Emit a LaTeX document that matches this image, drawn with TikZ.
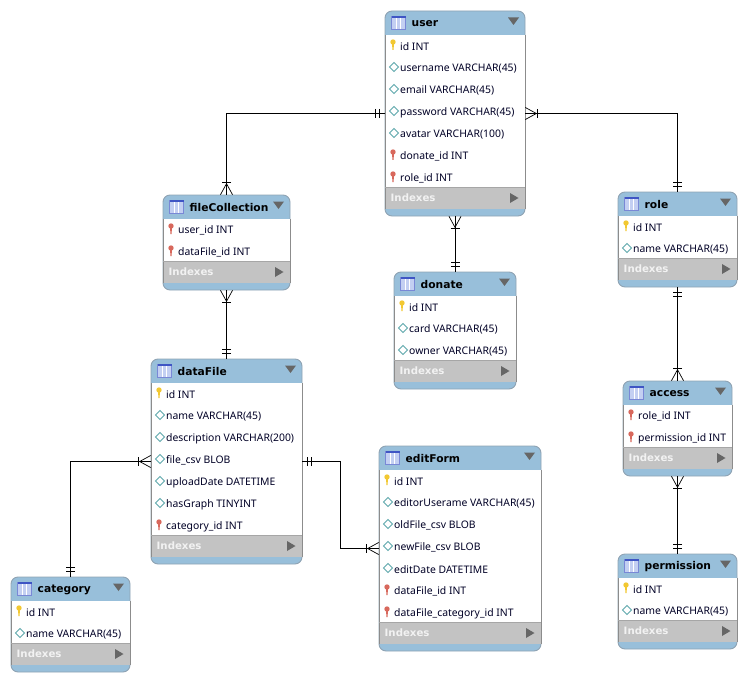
\documentclass[tikz,border=0pt]{standalone}
\usepackage{fontspec}
\setmainfont{Noto Sans}
\newfontfamily\titlefont{DejaVu Sans}
\usetikzlibrary{arrows.meta}
\definecolor{headblue}{HTML}{98BFDA}
\definecolor{framegray}{HTML}{8FA3B3}
\definecolor{bandgray}{HTML}{C3C3C3}
\definecolor{arrowgray}{HTML}{666666}
\definecolor{iconblue}{HTML}{3F55C4}
\definecolor{iconfill}{HTML}{C3CFF2}
\definecolor{keyyellow}{HTML}{F2C832}
\definecolor{keyred}{HTML}{D8685C}
\definecolor{colteal}{HTML}{5FA8AC}
\tikzset{
  tablebody/.style={draw=framegray,fill=headblue,rounded corners=7pt,line width=0.9pt,inner sep=0pt,outer sep=0pt},
  tabletitle/.style={anchor=west,inner sep=0pt,font=\titlefont\fontsize{10.7}{14}\selectfont\bfseries},
  rowtext/.style={anchor=west,inner sep=0pt,text=black!85!blue,font=\fontsize{10.4}{12}\selectfont},
  indextext/.style={anchor=west,inner sep=0pt,text=black!5,font=\titlefont\fontsize{10.2}{12}\selectfont\bfseries},
  reltree/.style={line width=1pt,draw=black,preaction={draw,arrows=-}},
  one/.tip={Bar[width=9pt,line width=0.9pt,sep=3.5pt]Bar[width=9pt,line width=0.9pt,sep=5pt]},
  many/.tip={Bar[width=9pt,line width=0.9pt,sep=0pt]Straight Barb[reversed,length=11pt,width=12pt,line width=0.7pt]},
}
% small icons of a row
\newcommand{\iconkey}[2]{%
  \fill[keyyellow] (#1-1,#2-4) circle (2.7);
  \fill[keyyellow] (#1-2,#2-4) -- (#1,#2-4) -- (#1-.4,#2+4) -- (#1-1.6,#2+4) -- cycle;}
\newcommand{\iconfk}[2]{%
  \fill[keyred] (#1-1,#2-4) circle (2.7);
  \fill[keyred] (#1-2,#2-4) -- (#1,#2-4) -- (#1-.4,#2+4) -- (#1-1.6,#2+4) -- cycle;}
\newcommand{\iconcol}[2]{%
  \draw[colteal,fill=white,line width=0.8pt] (#1-4.5,#2-1) -- (#1,#2-5.5) -- (#1+4.5,#2-1) -- (#1,#2+3.5) -- cycle;}
% #1 name, #2 left, #3 top, #4 right, #5 number of rows, #6 title, #7 rows
\newcommand{\dbtable}[7]{%
  \node[tablebody,minimum width={(#4-#2)*1pt},minimum height={(51+22*#5)*1pt}] (#1) at ({(#2+#4)/2},{#3+(51+22*#5)/2}) {};
  \fill[white] (#2,#3+24) rectangle (#4,#3+22+22*#5);
  \fill[bandgray] (#2,#3+22+22*#5) rectangle (#4,#3+44+22*#5);
  \draw[black!45,line width=0.7pt] (#2,#3+24) -- (#2,#3+44+22*#5) (#4,#3+24) -- (#4,#3+44+22*#5);
  \draw[black!35,line width=0.8pt] (#2,#3+22+22*#5) -- (#4,#3+22+22*#5);
  % table icon
  \draw[iconblue!70,fill=iconfill,line width=0.7pt] (#2+6.5,#3+5) rectangle (#2+20.5,#3+18);
  \fill[iconblue] (#2+6.5,#3+5) rectangle (#2+20.5,#3+7);
  \draw[white,line width=0.5pt] (#2+11,#3+7) -- (#2+11,#3+18) (#2+15.5,#3+7) -- (#2+15.5,#3+18);
  \node[tabletitle] (#1-title) at (#2+26.5,#3+12.7) {#6};
  \fill[arrowgray] (#4-17,#3+6.5) -- (#4-6,#3+6.5) -- (#4-11.5,#3+14) -- cycle;
  \foreach \kind/\txt [count=\i] in {#7} {
    \csname icon\kind\endcsname{#2+9}{#3+13+22*\i}
    \node[rowtext] (#1-row\i) at (#2+15,#3+13.8+22*\i) {\txt};
  }
  \node[indextext] (#1-indexes) at (#2+5.5,#3+33+22*#5) {Indexes};
  \fill[arrowgray] (#4-15,#3+28+22*#5) -- (#4-15,#3+38+22*#5) -- (#4-6.5,#3+33+22*#5) -- cycle;
}
\begin{document}
\begin{tikzpicture}[x=1pt,y=-1pt]
\useasboundingbox (0,0) rectangle (747,682);

\dbtable{user}{385}{11}{525}{7}{user}{key/id INT,col/username VARCHAR(45),col/email VARCHAR(45),col/password VARCHAR(45),col/avatar VARCHAR(100),fk/donate\_id INT,fk/role\_id INT}
\dbtable{fileCollection}{163}{195}{290}{2}{fileCollection}{fk/user\_id INT,fk/dataFile\_id INT}
\dbtable{role}{618}{192}{737}{2}{role}{key/id INT,col/name VARCHAR(45)}
\dbtable{donate}{394}{272}{516}{3}{donate}{key/id INT,col/card VARCHAR(45),col/owner VARCHAR(45)}
\dbtable{dataFile}{151}{359}{302}{7}{dataFile}{key/id INT,col/name VARCHAR(45),col/description VARCHAR(200),col/file\_csv BLOB,col/uploadDate DATETIME,col/hasGraph TINYINT,fk/category\_id INT}
\dbtable{editForm}{379}{446}{541}{7}{editForm}{key/id INT,col/editorUserame VARCHAR(45),col/oldFile\_csv BLOB,col/newFile\_csv BLOB,col/editDate DATETIME,fk/dataFile\_id INT,fk/dataFile\_category\_id INT}
\dbtable{category}{11}{577}{130}{2}{category}{key/id INT,col/name VARCHAR(45)}
\dbtable{access}{623}{381}{732}{2}{access}{fk/role\_id INT,fk/permission\_id INT}
\dbtable{permission}{618}{554}{737}{2}{permission}{key/id INT,col/name VARCHAR(45)}

\draw[reltree,{one}-{many}] (user.west) -| (fileCollection.north);
\draw[reltree,{many}-{one}] (user.east) -| (role.north);
\draw[reltree,{many}-{one}] (user.south) -- (donate.north);
\draw[reltree,{many}-{one}] (fileCollection.south) -- (dataFile.north);
\draw[reltree,{one}-{many}] (role.south) -- (access.north);
\draw[reltree,{many}-{one}] (access.south) -- (permission.north);
\draw[reltree,{many}-{one}] (dataFile.west) -| (category.north);
\draw[reltree,{one}-{many}] (dataFile.east) -- ++(38,0) |- (editForm.west);
\end{tikzpicture}
\end{document}
